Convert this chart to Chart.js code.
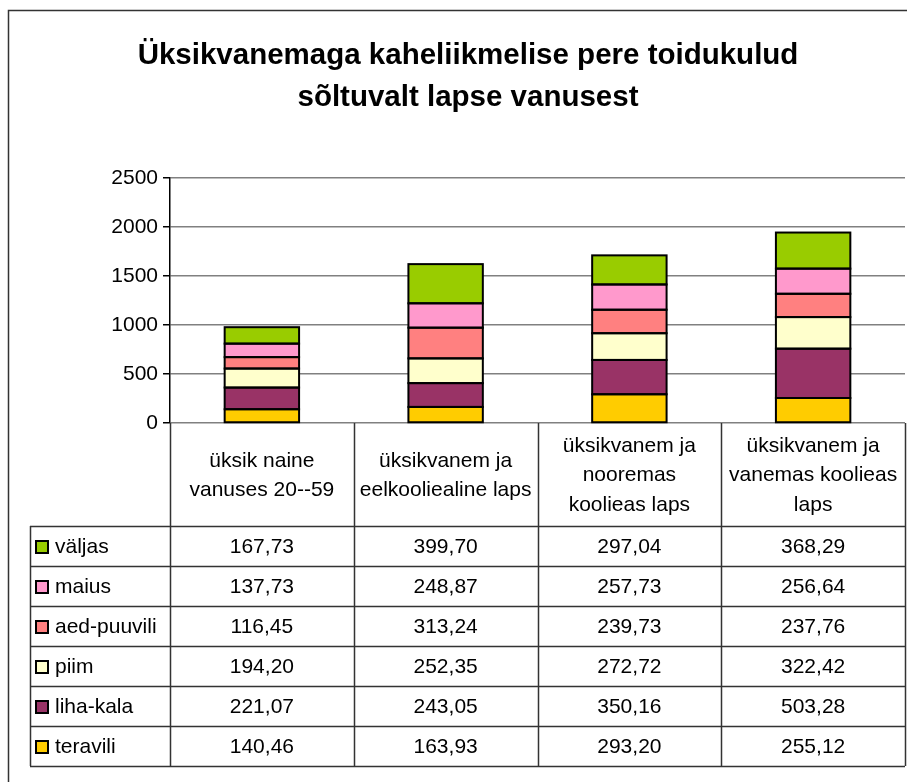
<!DOCTYPE html>
<html>
<head>
<meta charset="utf-8">
<script src="https://cdn.jsdelivr.net/npm/chart.js@4/dist/chart.umd.min.js"></script>
<style>
html,body{margin:0;padding:0;background:#fff;}
#wrap{position:relative;width:907px;height:782px;}
</style>
</head>
<body>
<div id="wrap"><canvas id="c" width="907" height="782"></canvas></div>
<script>
const titleLines = ["Üksikvanemaga kaheliikmelise pere toidukulud", "sõltuvalt lapse vanusest"];
const categories = [
  ["üksik naine", "vanuses 20--59"],
  ["üksikvanem ja", "eelkooliealine laps"],
  ["üksikvanem ja", "nooremas", "koolieas laps"],
  ["üksikvanem ja", "vanemas koolieas", "laps"]
];
const seriesNames = ["teravili", "liha-kala", "piim", "aed-puuvili", "maius", "väljas"];
const seriesColors = ["#FFCC00", "#993366", "#FFFFCC", "#FF8080", "#FF99CC", "#99CC00"];
const teravili   = [140.46, 163.93, 293.20, 255.12];
const lihaKala   = [221.07, 243.05, 350.16, 503.28];
const piim       = [194.20, 252.35, 272.72, 322.42];
const aedPuuvili = [116.45, 313.24, 239.73, 237.76];
const maius      = [137.73, 248.87, 257.73, 256.64];
const valjas     = [167.73, 399.70, 297.04, 368.29];
const yTicks = [0, 500, 1000, 1500, 2000, 2500];

const seriesValues = [teravili, lihaKala, piim, aedPuuvili, maius, valjas];
const FONT = "'Liberation Sans', Arial, sans-serif";
const FS = 21;

const outlinePlugin = {
  id: 'outlinePlugin',
  afterDatasetsDraw(chart) {
    const ctx = chart.ctx;
    ctx.save();
    ctx.strokeStyle = '#000';
    ctx.lineWidth = 2;
    chart.data.datasets.forEach((ds, di) => {
      chart.getDatasetMeta(di).data.forEach(bar => {
        const p = bar.getProps(['x', 'y', 'base', 'width'], true);
        const l = p.x - p.width / 2, r = p.x + p.width / 2;
        ctx.strokeRect(l, Math.min(p.y, p.base), r - l, Math.abs(p.base - p.y));
      });
    });
    ctx.restore();
  }
};

const tablePlugin = {
  id: 'tablePlugin',
  afterDraw(chart) {
    const ctx = chart.ctx;
    const xs = chart.scales.x;
    const area = chart.chartArea;
    ctx.save();
    ctx.strokeStyle = '#333';
    ctx.lineWidth = 1.5;
    ctx.strokeRect(8.5, 10.5, 920, 800);
    ctx.fillStyle = '#000';
    ctx.font = 'bold 29.5px ' + FONT;
    ctx.textAlign = 'center';
    ctx.textBaseline = 'middle';
    ctx.fillText(titleLines[0], 468, 56);
    ctx.fillText(titleLines[1], 468, 98);

    const n = categories.length;
    const step = (area.right - area.left) / n;
    const bounds = [];
    for (let i = 0; i <= n; i++) bounds.push(i === n ? area.right : xs.getPixelForValue(i) - step / 2);
    const headerTop = area.bottom;
    const headerBottom = 526;
    const rowH = 40;
    const rows = seriesNames.length;
    const tableBottom = headerBottom + rows * rowH;
    const legendLeft = 30;

    ctx.strokeStyle = '#333';
    ctx.lineWidth = 1.5;
    ctx.beginPath();
    for (let i = 0; i <= n; i++) {
      const x = Math.round(bounds[i]) + 0.5;
      ctx.moveTo(x, headerTop);
      ctx.lineTo(x, tableBottom);
    }
    ctx.moveTo(legendLeft + 0.5, headerBottom);
    ctx.lineTo(legendLeft + 0.5, tableBottom);
    for (let r = 0; r <= rows; r++) {
      const y = headerBottom + r * rowH + 0.5;
      ctx.moveTo(legendLeft, y);
      ctx.lineTo(area.right, y);
    }
    ctx.stroke();

    ctx.font = FS + 'px ' + FONT;
    ctx.fillStyle = '#000';
    const lh = 29.5;
    const hc = (headerTop + headerBottom) / 2 + 1;
    for (let i = 0; i < n; i++) {
      const cx = (bounds[i] + bounds[i + 1]) / 2;
      const lines = categories[i];
      lines.forEach((t, k) => {
        ctx.fillText(t, cx, hc + (k - (lines.length - 1) / 2) * lh);
      });
    }
    for (let r = 0; r < rows; r++) {
      const si = rows - 1 - r;
      const cy = headerBottom + r * rowH + rowH / 2 + 1;
      ctx.fillStyle = seriesColors[si];
      ctx.fillRect(36, cy - 6, 12, 12);
      ctx.strokeStyle = '#000';
      ctx.lineWidth = 2;
      ctx.strokeRect(36, cy - 6, 12, 12);
      ctx.fillStyle = '#000';
      ctx.textAlign = 'left';
      ctx.fillText(seriesNames[si], 55, cy);
      ctx.textAlign = 'center';
      for (let i = 0; i < n; i++) {
        const cx = (bounds[i] + bounds[i + 1]) / 2;
        ctx.fillText(seriesValues[si][i].toFixed(2).replace('.', ','), cx, cy);
      }
    }
    ctx.restore();
  }
};

new Chart(document.getElementById('c'), {
  type: 'bar',
  data: {
    labels: categories.map(c => c.join(' ')),
    datasets: seriesNames.map((name, i) => ({
      label: name,
      data: seriesValues[i],
      backgroundColor: seriesColors[i],
      borderWidth: 0,
      inflateAmount: 0,
      barPercentage: 0.405,
      categoryPercentage: 1.0
    }))
  },
  options: {
    responsive: false,
    animation: false,
    devicePixelRatio: 1,
    layout: { padding: { left: 110, top: 178, right: 2, bottom: 359 } },
    plugins: { legend: { display: false }, title: { display: false }, tooltip: { enabled: false } },
    scales: {
      x: {
        stacked: true,
        display: false,
        offset: true
      },
      y: {
        stacked: true,
        min: 0,
        max: 2500,
        afterFit(s) { s.width = 60; },
        afterBuildTicks(s) { s.ticks = yTicks.map(v => ({ value: v })); },
        border: { display: true, color: '#000', width: 1.5 },
        grid: { color: '#808080', lineWidth: 1.5, tickLength: 7, drawTicks: true, tickColor: '#000' },
        ticks: { color: '#000', font: { family: FONT, size: FS }, padding: 5, callback: v => String(v) }
      }
    }
  },
  plugins: [outlinePlugin, tablePlugin]
});
</script>
</body>
</html>
